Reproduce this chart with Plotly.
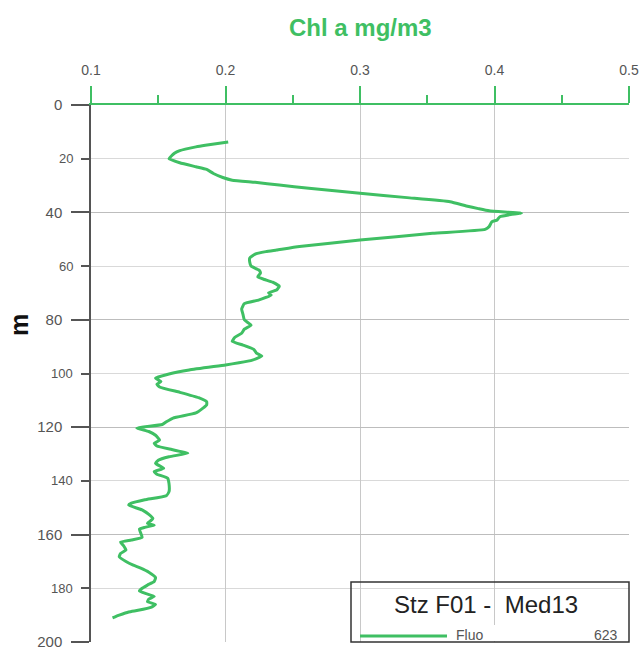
import plotly.graph_objects as go

# ---- data ----
depth_m = [13.8, 15.0, 15.6, 17.0, 18.0, 20.0, 21.5, 23.0, 24.0, 25.5, 27.0, 28.0, 28.8, 29.8,
           31.0, 32.9, 34.5, 36.0, 37.6, 38.6, 39.4, 40.3, 40.8, 41.6, 42.8, 43.5, 45.3, 46.3,
           47.8, 50.3, 52.7, 54.0, 54.6, 55.5, 57.0, 58.5, 60.0, 61.5, 62.6, 64.0, 65.0, 66.0,
           67.5, 68.9, 70.0, 70.8, 72.6, 74.0, 76.0, 78.0, 80.0, 82.0, 83.5, 85.0, 86.5, 88.0,
           89.4, 91.0, 92.4, 93.5, 95.0, 96.0, 96.8, 98.7, 100.2, 101.7, 103.0, 104.0, 105.0,
           107.0, 109.0, 110.5, 111.7, 113.0, 114.7, 116.6, 118.0, 119.0, 120.3, 121.6, 123.0,
           124.8, 126.0, 127.0, 128.3, 129.0, 129.7, 131.0, 132.3, 133.5, 135.3, 136.5, 137.5,
           139.0, 141.0, 144.0, 145.5, 147.0, 148.3, 149.0, 150.8, 152.5, 154.0, 155.0, 155.8,
           156.5, 157.3, 158.0, 161.0, 162.0, 162.8, 164.0, 165.7, 167.0, 168.3, 170.0, 171.3,
           172.5, 174.0, 176.0, 177.5, 178.8, 180.0, 181.0, 182.0, 183.0, 184.0, 185.0, 186.0,
           187.0, 188.2, 188.8, 190.0, 191.0]
chl_mg_m3 = [0.202, 0.185, 0.178, 0.166, 0.162, 0.158, 0.166, 0.178, 0.186, 0.191, 0.198, 0.205,
             0.222, 0.240, 0.262, 0.300, 0.335, 0.367, 0.379, 0.388, 0.396, 0.420, 0.412, 0.404,
             0.402, 0.398, 0.396, 0.393, 0.354, 0.300, 0.255, 0.238, 0.230, 0.222, 0.218, 0.218,
             0.219, 0.225, 0.226, 0.224, 0.229, 0.235, 0.240, 0.238, 0.232, 0.234, 0.225, 0.214,
             0.212, 0.213, 0.214, 0.219, 0.214, 0.212, 0.207, 0.205, 0.213, 0.221, 0.223, 0.227,
             0.220, 0.210, 0.200, 0.173, 0.158, 0.148, 0.152, 0.149, 0.151, 0.166, 0.180, 0.186,
             0.186, 0.183, 0.178, 0.161, 0.156, 0.153, 0.134, 0.143, 0.148, 0.151, 0.147, 0.149,
             0.160, 0.166, 0.172, 0.158, 0.150, 0.148, 0.154, 0.147, 0.149, 0.157, 0.158, 0.158,
             0.156, 0.140, 0.130, 0.128, 0.138, 0.143, 0.146, 0.144, 0.142, 0.147, 0.140, 0.136,
             0.138, 0.130, 0.122, 0.124, 0.126, 0.122, 0.121, 0.126, 0.131, 0.137, 0.143, 0.148,
             0.147, 0.142, 0.138, 0.136, 0.141, 0.147, 0.143, 0.142, 0.148, 0.145, 0.135, 0.128,
             0.121, 0.116]

x_title = "Chl a mg/m3"
y_title = "m"
minor_depth_labels = [20, 60, 100, 140, 180]
legend_title = "Stz F01 -\u00a0 Med13"
series_name = "Fluo"
series_count = "623"

GREEN = "#3fbf63"
GREY_TXT = "#555555"
AXIS_GREY = "#555555"
FONT = "Liberation Sans, Arial, sans-serif"

W, H = 640, 648
ML, MR, MT, MB = 91, 11, 105, 6
PW, PH = W - ML - MR, H - MT - MB


def px(xp):
    return (xp - ML) / PW


def py(yp):
    return (H - MB - yp) / PH


fig = go.Figure()
fig.add_trace(go.Scatter(
    x=chl_mg_m3, y=depth_m, mode="lines", name=series_name,
    line=dict(color=GREEN, width=3, shape="spline", smoothing=0.4),
    showlegend=False, hoverinfo="skip",
))

annotations = [
    dict(text="<b>%s</b>" % x_title, xref="paper", yref="paper", x=0.5, y=py(27),
         xanchor="center", yanchor="middle", showarrow=False,
         font=dict(family=FONT, size=24, color=GREEN)),
    dict(text="<b>%s</b>" % y_title, xref="paper", yref="paper", x=px(19), y=py(325),
         xanchor="center", yanchor="middle", showarrow=False, textangle=-90,
         font=dict(family=FONT, size=25, color="#111111")),
    dict(text=legend_title, xref="paper", yref="paper", x=px(486), y=py(604),
         xanchor="center", yanchor="middle", showarrow=False,
         font=dict(family=FONT, size=24, color="#222222")),
    dict(text=series_name, xref="paper", yref="paper", x=px(454), y=py(635),
         xanchor="left", yanchor="middle", showarrow=False,
         font=dict(family=FONT, size=14, color=GREY_TXT)),
    dict(text=series_count, xref="paper", yref="paper", x=px(620), y=py(635),
         xanchor="right", yanchor="middle", showarrow=False,
         font=dict(family=FONT, size=14, color=GREY_TXT)),
]
for d in minor_depth_labels:
    annotations.append(dict(text=str(d), xref="paper", yref="y", x=px(75), y=d,
                            xanchor="right", yanchor="middle", showarrow=False,
                            font=dict(family=FONT, size=13, color=GREY_TXT)))

shapes = [
    dict(type="rect", xref="paper", yref="paper", x0=px(483), x1=px(593), y0=py(641), y1=py(625),
         fillcolor="white", line=dict(width=0), layer="above"),
    dict(type="rect", xref="paper", yref="paper", x0=px(351), x1=px(629), y0=py(642), y1=py(582),
         fillcolor="rgba(0,0,0,0)", line=dict(color="#333333", width=1.5), layer="above"),
    dict(type="line", xref="paper", yref="paper", x0=px(360), x1=px(447), y0=py(636), y1=py(636),
         line=dict(color=GREEN, width=3), layer="above"),
]

fig.update_layout(
    width=W, height=H,
    margin=dict(l=ML, r=MR, t=MT, b=MB),
    paper_bgcolor="white", plot_bgcolor="white",
    font=dict(family=FONT),
    annotations=annotations, shapes=shapes,
    xaxis=dict(
        side="top", range=[0.1, 0.5], tick0=0.1, dtick=0.1, tickformat=".1f",
        ticks="outside", ticklen=17, tickwidth=2, tickcolor=GREEN,
        showline=True, linecolor=GREEN, linewidth=2,
        showgrid=True, gridcolor="#c8c8c8", gridwidth=1, zeroline=False,
        minor=dict(tick0=0.1, dtick=0.05, ticks="outside", ticklen=8, tickwidth=2,
                   tickcolor=GREEN, showgrid=False),
        tickfont=dict(family=FONT, size=14, color=GREY_TXT),
        ticklabelstandoff=5, ticklabeloverflow="allow", automargin=False,
    ),
    yaxis=dict(
        range=[200, 0], tick0=0, dtick=40,
        ticks="outside", ticklen=18, tickwidth=1.5, tickcolor=AXIS_GREY,
        showline=True, linecolor=AXIS_GREY, linewidth=1.5,
        showgrid=True, gridcolor="#bdbdbd", gridwidth=1, zeroline=False,
        minor=dict(tick0=0, dtick=20, ticks="outside", ticklen=8, tickwidth=1.5,
                   tickcolor=AXIS_GREY, showgrid=True, gridcolor="#d9d9d9"),
        tickfont=dict(family=FONT, size=15, color=GREY_TXT),
        ticklabelstandoff=6, ticklabeloverflow="allow", automargin=False,
    ),
)

fig.write_html(
    "out.html",
    config={"displayModeBar": False},
    post_script="document.body.style.margin='0';document.body.style.padding='0';",
)
